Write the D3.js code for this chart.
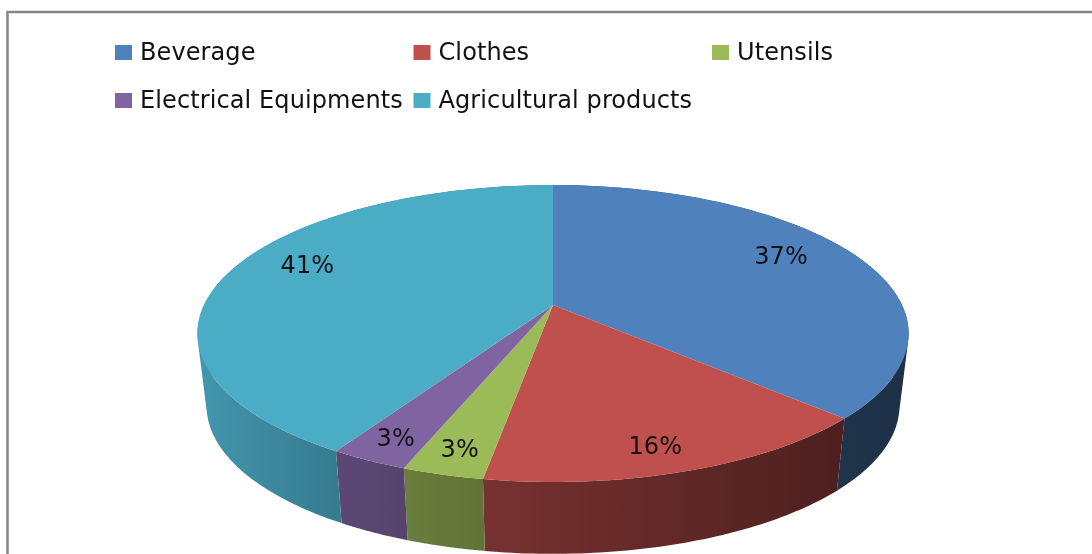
<!DOCTYPE html>
<html>
<script src="https://d3js.org/d3.v7.min.js"></script>

<head>
    <style>
        html,
        body {
            margin: 0;
            padding: 0;
            background: #fff;
            overflow: hidden;
        }

        svg {
            display: block;
            /* the reference is a soft, upscaled screenshot */
            filter: blur(0.5px);
        }

        text {
            font-family: "DejaVu Sans", Verdana, sans-serif;
            fill: #111;
            letter-spacing: 0.1px;
        }
    </style>
</head>

<body>
</body>
<script>
    const categories = ["Beverage", "Clothes", "Utensils", "Electrical Equipments", "Agricultural products"];
    // slice sizes in percent, estimated from where the slices end in the picture
    const values = [37.1, 15.5, 3.1, 3.0, 41.3];
    const percentLabels = ["37%", "16%", "3%", "3%", "41%"];
    const colors = ["#4f81bd", "#c0504d", "#9bbb59", "#8064a2", "#4bacc6"];

    const width = 1092,
        height = 554;

    const svg = d3.select("body").append("svg").attr("width", width).attr("height", height);
    const defs = svg.append("defs");

    // chart frame, runs off the right and bottom of the picture
    svg.append("rect")
        .attr("x", 7.5)
        .attr("y", 12)
        .attr("width", 1100)
        .attr("height", 570)
        .attr("fill", "#fff")
        .attr("stroke", "#868686")
        .attr("stroke-width", 2.5);

    // the disc is a circle seen in perspective, so the centre sits above the middle of the ellipse
    const tilt = 0.192;
    function project(face, angle, r = 1) {
        const u = r * Math.sin(angle),
            v = -r * Math.cos(angle),
            d = 1 - tilt * v;
        return [face.x + face.rx * u / d, face.y + face.ry * v / d];
    }
    const topFace = { x: 553, y: 305, rx: 349, ry: 143 };
    const bottomFace = { x: 553, y: 377.5, rx: 340, ry: 142.5 };

    const arcs = d3.pie().sort(null)(values);
    const arcPoints = (face, a) => d3.range(0, 61).map(i => project(face, a.startAngle + (a.endAngle - a.startAngle) * i / 60));
    const line = d3.line();

    // wall shading gets darker from left to right
    const shade = d3.scaleLinear()
        .domain([197, 335, 485, 840, 909])
        .range([0.88, 0.72, 0.62, 0.4, 0.37]);
    const shadeX = d3.scaleLinear().domain([197, 909]);

    function darken(color, k) {
        const c = d3.rgb(color);
        return d3.rgb(c.r * k, c.g * k, c.b * k).formatHex();
    }

    arcs.forEach((a, i) => {
        const grad = defs.append("linearGradient")
            .attr("id", "wall" + i)
            .attr("gradientUnits", "userSpaceOnUse")
            .attr("x1", 197).attr("x2", 909)
            .attr("y1", 0).attr("y2", 0);
        shade.domain().forEach(x => {
            grad.append("stop")
                .attr("offset", shadeX(x))
                .attr("stop-color", darken(colors[i], shade(x)));
        });
    });

    // side walls first, the top face covers the hidden back part
    svg.append("g")
        .selectAll("path")
        .data(arcs)
        .join("path")
        .attr("d", a => {
            // strips all wound the same way, otherwise they cancel at the turning points
            let d = "";
            const t = arcPoints(topFace, a),
                b = arcPoints(bottomFace, a);
            for (let i = 0; i < 60; i++) {
                const quad = [t[i], t[i + 1], b[i + 1], b[i]];
                if (d3.polygonArea(quad) < 0) quad.reverse();
                d += line(quad) + "Z";
            }
            return d;
        })
        .attr("fill", (a, i) => `url(#wall${i})`);

    // top face
    svg.append("g")
        .selectAll("path")
        .data(arcs)
        .join("path")
        .attr("d", a => line([[topFace.x, topFace.y], ...arcPoints(topFace, a)]) + "Z")
        .attr("fill", (a, i) => colors[i]);

    // percent labels, placed on the disc
    const labelRadius = [0.79, 0.865, 0.87, 0.875, 0.8];
    const labelTurn = [-4.5, 2, 0, 0, 6];
    svg.append("g")
        .selectAll("text")
        .data(arcs)
        .join("text")
        .attr("transform", (a, i) => {
            const mid = (a.startAngle + a.endAngle) / 2 + labelTurn[i] * Math.PI / 180;
            const p = project(topFace, mid, labelRadius[i]);
            return `translate(${p[0]},${p[1]})`;
        })
        .attr("text-anchor", "middle")
        .attr("dy", "0.35em")
        .attr("font-size", 24)
        .text((a, i) => percentLabels[i]);

    // legend, three to a row
    const legendX = d3.scalePoint().domain([0, 1, 2]).range([115, 712]);
    const legendY = d3.scalePoint().domain([0, 1]).range([52.5, 100.5]);
    const legend = svg.append("g")
        .selectAll("g")
        .data(categories)
        .join("g")
        .attr("transform", (d, i) => `translate(${legendX(i % 3)},${legendY(Math.floor(i / 3))})`);
    legend.append("rect")
        .attr("y", -7.5)
        .attr("width", 17)
        .attr("height", 15)
        .attr("fill", (d, i) => colors[i]);
    legend.append("text")
        .attr("x", 25)
        .attr("dy", "0.32em")
        .attr("font-size", 24)
        .text(d => d);
</script>

</html>
